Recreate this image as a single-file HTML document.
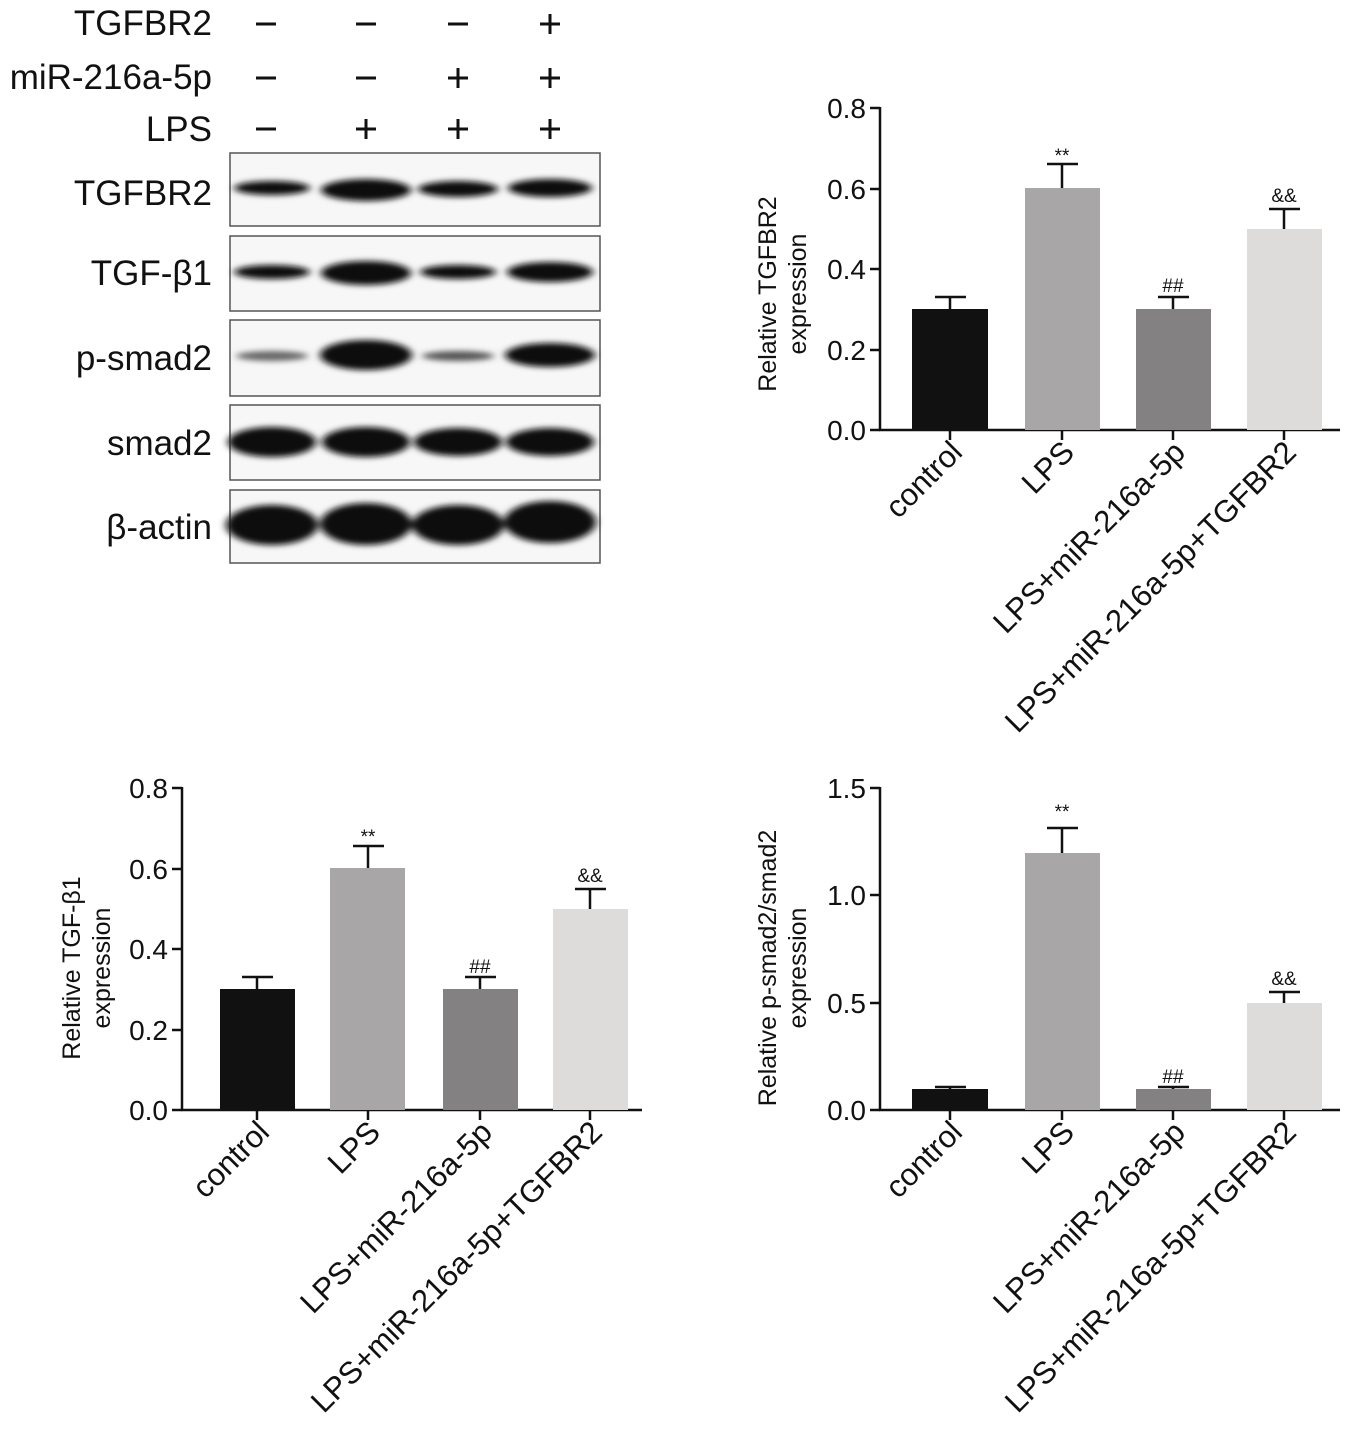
<!DOCTYPE html>
<html><head><meta charset="utf-8"><style>
html,body{margin:0;padding:0;background:#fff;}
svg{display:block;font-family:"Liberation Sans",Arial,sans-serif;}
</style></head><body>
<svg width="1368" height="1431" viewBox="0 0 1368 1431" xmlns="http://www.w3.org/2000/svg">
<defs>
<filter id="b" x="-20%" y="-100%" width="140%" height="300%"><feGaussianBlur stdDeviation="4 3"/></filter>
</defs>
<g font-size="35" fill="#111" text-anchor="end">
<text x="212" y="35">TGFBR2</text>
<text x="212" y="89">miR-216a-5p</text>
<text x="212" y="141">LPS</text>
</g>
<g stroke="#111" stroke-width="3">
<line x1="256" y1="24" x2="276" y2="24"/><line x1="356" y1="24" x2="376" y2="24"/><line x1="448" y1="24" x2="468" y2="24"/>
<line x1="540" y1="24" x2="560" y2="24"/><line x1="550" y1="14" x2="550" y2="34"/>
<line x1="256" y1="78" x2="276" y2="78"/><line x1="356" y1="78" x2="376" y2="78"/>
<line x1="448" y1="78" x2="468" y2="78"/><line x1="458" y1="68" x2="458" y2="88"/>
<line x1="540" y1="78" x2="560" y2="78"/><line x1="550" y1="68" x2="550" y2="88"/>
<line x1="256" y1="129" x2="276" y2="129"/>
<line x1="356" y1="129" x2="376" y2="129"/><line x1="366" y1="119" x2="366" y2="139"/>
<line x1="448" y1="129" x2="468" y2="129"/><line x1="458" y1="119" x2="458" y2="139"/>
<line x1="540" y1="129" x2="560" y2="129"/><line x1="550" y1="119" x2="550" y2="139"/>
</g>
<g font-size="35" fill="#111" text-anchor="end">
<text x="212" y="205">TGFBR2</text>
<text x="212" y="285">TGF-β1</text>
<text x="212" y="370">p-smad2</text>
<text x="212" y="455">smad2</text>
<text x="212" y="539">β-actin</text>
</g>
<g stroke="#555" stroke-width="1.5" fill="#f7f7f7">
<rect x="230" y="153" width="370" height="73"/>
<rect x="230" y="236" width="370" height="75"/>
<rect x="230" y="320" width="370" height="76"/>
<rect x="230" y="405" width="370" height="75"/>
<rect x="230" y="490" width="370" height="73"/>
</g>
<g filter="url(#b)" fill="#111">
<ellipse cx="272" cy="188" rx="38" ry="7"/><ellipse cx="366" cy="190" rx="45" ry="11"/><ellipse cx="458" cy="189" rx="40" ry="8"/><ellipse cx="550" cy="188" rx="42" ry="9"/>
<ellipse cx="272" cy="272" rx="38" ry="7"/><ellipse cx="366" cy="273" rx="45" ry="12"/><ellipse cx="458" cy="272" rx="38" ry="7"/><ellipse cx="550" cy="272" rx="43" ry="10"/>
<ellipse cx="272" cy="356" rx="36" ry="5" fill="#666"/><ellipse cx="366" cy="355" rx="46" ry="15"/><ellipse cx="458" cy="356" rx="36" ry="5" fill="#555"/><ellipse cx="550" cy="355" rx="45" ry="12"/>
<ellipse cx="272" cy="442" rx="44" ry="15"/><ellipse cx="366" cy="442" rx="44" ry="15"/><ellipse cx="458" cy="442" rx="44" ry="14"/><ellipse cx="550" cy="442" rx="44" ry="14"/>
<ellipse cx="272" cy="525" rx="46" ry="20"/><ellipse cx="366" cy="524" rx="46" ry="21"/><ellipse cx="458" cy="525" rx="46" ry="20"/><ellipse cx="550" cy="522" rx="46" ry="21"/>
</g>

<!-- Chart 1 -->
<g font-size="28" fill="#111">
<line x1="880" y1="107" x2="880" y2="431" stroke="#111" stroke-width="2.5"/>
<line x1="879" y1="430" x2="1340" y2="430" stroke="#111" stroke-width="2.5"/>
<g stroke="#111" stroke-width="2.5">
<line x1="870" y1="108" x2="880" y2="108"/><line x1="870" y1="189" x2="880" y2="189"/><line x1="870" y1="269" x2="880" y2="269"/><line x1="870" y1="350" x2="880" y2="350"/><line x1="870" y1="430" x2="880" y2="430"/>
<line x1="950" y1="430" x2="950" y2="440"/><line x1="1062" y1="430" x2="1062" y2="440"/><line x1="1173" y1="430" x2="1173" y2="440"/><line x1="1284" y1="430" x2="1284" y2="440"/>
</g>
<g text-anchor="end"><text x="866" y="118">0.8</text><text x="866" y="199">0.6</text><text x="866" y="279">0.4</text><text x="866" y="360">0.2</text><text x="866" y="440">0.0</text></g>
<g font-size="25"><text transform="translate(776,294) rotate(-90)" text-anchor="middle">Relative TGFBR2</text>
<text transform="translate(806,294) rotate(-90)" text-anchor="middle">expression</text></g>
<g stroke="#111" stroke-width="2.5">
<line x1="950" y1="309" x2="950" y2="297"/><line x1="935" y1="297" x2="966" y2="297"/>
<line x1="1062" y1="188" x2="1062" y2="164"/><line x1="1047" y1="164" x2="1078" y2="164"/>
<line x1="1173" y1="309" x2="1173" y2="297"/><line x1="1158" y1="297" x2="1189" y2="297"/>
<line x1="1284" y1="229" x2="1284" y2="209"/><line x1="1269" y1="209" x2="1300" y2="209"/>
</g>
<rect x="912" y="309" width="76" height="121" fill="#111"/>
<rect x="1025" y="188" width="75" height="242" fill="#a8a6a7"/>
<rect x="1136" y="309" width="75" height="121" fill="#838181"/>
<rect x="1247" y="229" width="75" height="201" fill="#dedcdb"/>
<g font-size="19" text-anchor="middle"><text x="1062" y="162">**</text><text x="1173" y="292">##</text><text x="1284" y="202">&amp;&amp;</text></g>
<g text-anchor="end" font-size="31">
<text transform="translate(964,454) rotate(-45)">control</text>
<text transform="translate(1076,454) rotate(-45)">LPS</text>
<text transform="translate(1187,454) rotate(-45)">LPS+miR-216a-5p</text>
<text transform="translate(1298,454) rotate(-45)">LPS+miR-216a-5p+TGFBR2</text>
</g>
</g>

<!-- Chart 2 -->
<g font-size="28" fill="#111">
<line x1="182" y1="787" x2="182" y2="1111" stroke="#111" stroke-width="2.5"/>
<line x1="181" y1="1110" x2="642" y2="1110" stroke="#111" stroke-width="2.5"/>
<g stroke="#111" stroke-width="2.5">
<line x1="172" y1="788" x2="182" y2="788"/><line x1="172" y1="869" x2="182" y2="869"/><line x1="172" y1="949" x2="182" y2="949"/><line x1="172" y1="1030" x2="182" y2="1030"/><line x1="172" y1="1110" x2="182" y2="1110"/>
<line x1="257" y1="1110" x2="257" y2="1120"/><line x1="368" y1="1110" x2="368" y2="1120"/><line x1="480" y1="1110" x2="480" y2="1120"/><line x1="590" y1="1110" x2="590" y2="1120"/>
</g>
<g text-anchor="end"><text x="168" y="798">0.8</text><text x="168" y="879">0.6</text><text x="168" y="959">0.4</text><text x="168" y="1040">0.2</text><text x="168" y="1120">0.0</text></g>
<g font-size="25"><text transform="translate(80,968) rotate(-90)" text-anchor="middle">Relative TGF-β1</text>
<text transform="translate(110,968) rotate(-90)" text-anchor="middle">expression</text></g>
<g stroke="#111" stroke-width="2.5">
<line x1="257" y1="989" x2="257" y2="977"/><line x1="242" y1="977" x2="273" y2="977"/>
<line x1="368" y1="868" x2="368" y2="846"/><line x1="353" y1="846" x2="384" y2="846"/>
<line x1="480" y1="989" x2="480" y2="977"/><line x1="465" y1="977" x2="496" y2="977"/>
<line x1="590" y1="909" x2="590" y2="889"/><line x1="575" y1="889" x2="606" y2="889"/>
</g>
<rect x="220" y="989" width="75" height="121" fill="#111"/>
<rect x="330" y="868" width="75" height="242" fill="#a8a6a7"/>
<rect x="443" y="989" width="75" height="121" fill="#838181"/>
<rect x="553" y="909" width="75" height="201" fill="#dedcdb"/>
<g font-size="19" text-anchor="middle"><text x="368" y="843">**</text><text x="480" y="973">##</text><text x="590" y="882">&amp;&amp;</text></g>
<g text-anchor="end" font-size="31">
<text transform="translate(271,1134) rotate(-45)">control</text>
<text transform="translate(382,1134) rotate(-45)">LPS</text>
<text transform="translate(494,1134) rotate(-45)">LPS+miR-216a-5p</text>
<text transform="translate(604,1134) rotate(-45)">LPS+miR-216a-5p+TGFBR2</text>
</g>
</g>

<!-- Chart 3 -->
<g font-size="28" fill="#111">
<line x1="880" y1="787" x2="880" y2="1111" stroke="#111" stroke-width="2.5"/>
<line x1="879" y1="1110" x2="1340" y2="1110" stroke="#111" stroke-width="2.5"/>
<g stroke="#111" stroke-width="2.5">
<line x1="870" y1="788" x2="880" y2="788"/><line x1="870" y1="895" x2="880" y2="895"/><line x1="870" y1="1003" x2="880" y2="1003"/><line x1="870" y1="1110" x2="880" y2="1110"/>
<line x1="950" y1="1110" x2="950" y2="1120"/><line x1="1062" y1="1110" x2="1062" y2="1120"/><line x1="1173" y1="1110" x2="1173" y2="1120"/><line x1="1284" y1="1110" x2="1284" y2="1120"/>
</g>
<g text-anchor="end"><text x="866" y="798">1.5</text><text x="866" y="905">1.0</text><text x="866" y="1013">0.5</text><text x="866" y="1120">0.0</text></g>
<g font-size="25"><text transform="translate(776,968) rotate(-90)" text-anchor="middle">Relative p-smad2/smad2</text>
<text transform="translate(806,968) rotate(-90)" text-anchor="middle">expression</text></g>
<g stroke="#111" stroke-width="2.5">
<line x1="950" y1="1089" x2="950" y2="1087"/><line x1="935" y1="1087" x2="966" y2="1087"/>
<line x1="1062" y1="853" x2="1062" y2="828"/><line x1="1047" y1="828" x2="1078" y2="828"/>
<line x1="1173" y1="1089" x2="1173" y2="1087"/><line x1="1158" y1="1087" x2="1189" y2="1087"/>
<line x1="1284" y1="1003" x2="1284" y2="992"/><line x1="1269" y1="992" x2="1300" y2="992"/>
</g>
<rect x="912" y="1089" width="76" height="21" fill="#111"/>
<rect x="1025" y="853" width="75" height="257" fill="#a8a6a7"/>
<rect x="1136" y="1089" width="75" height="21" fill="#838181"/>
<rect x="1247" y="1003" width="75" height="107" fill="#dedcdb"/>
<g font-size="19" text-anchor="middle"><text x="1062" y="818">**</text><text x="1173" y="1083">##</text><text x="1284" y="985">&amp;&amp;</text></g>
<g text-anchor="end" font-size="31">
<text transform="translate(964,1134) rotate(-45)">control</text>
<text transform="translate(1076,1134) rotate(-45)">LPS</text>
<text transform="translate(1187,1134) rotate(-45)">LPS+miR-216a-5p</text>
<text transform="translate(1298,1134) rotate(-45)">LPS+miR-216a-5p+TGFBR2</text>
</g>
</g>
</svg>
</body></html>
